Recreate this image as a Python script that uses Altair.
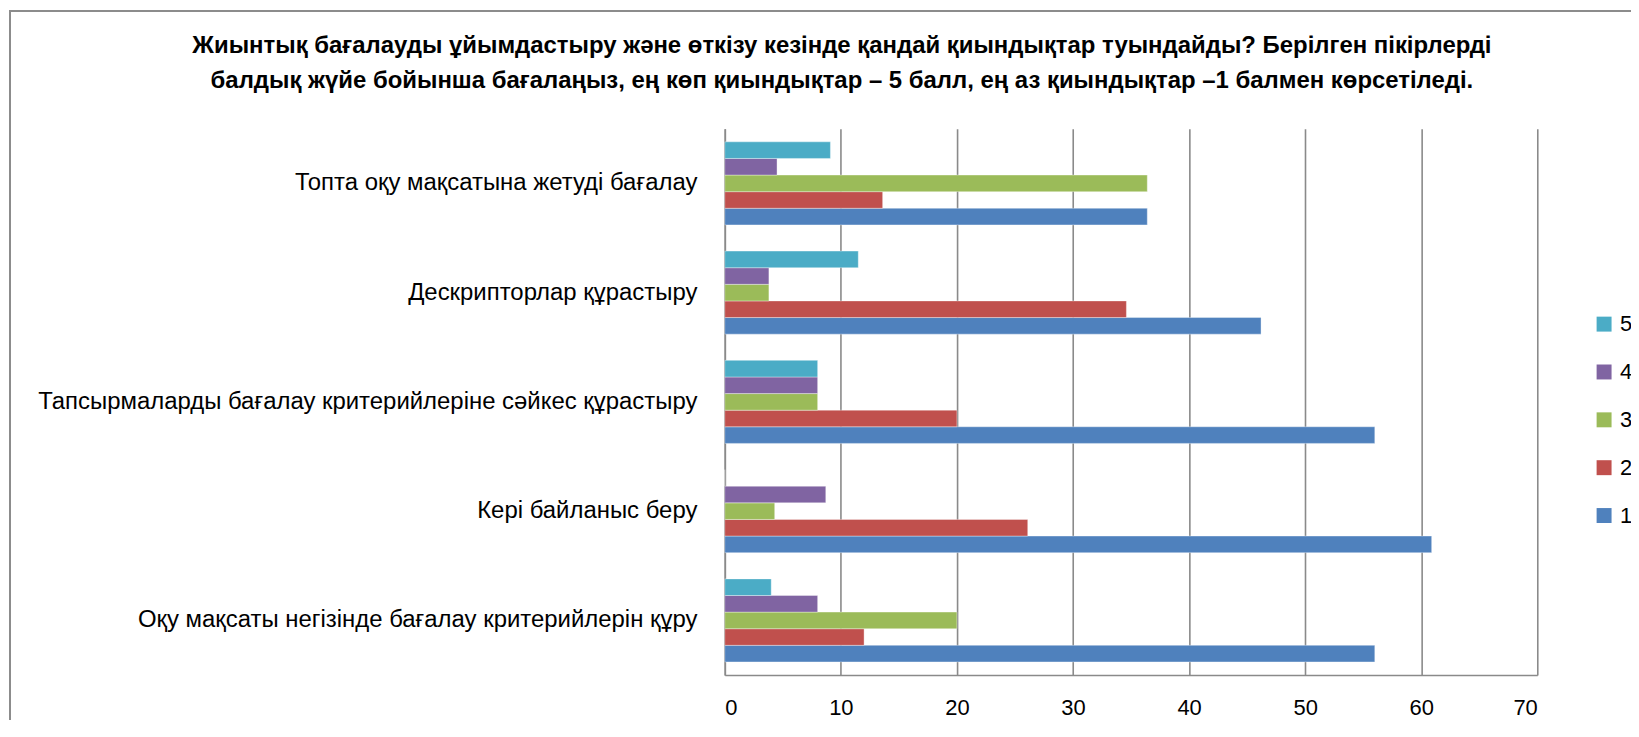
import altair as alt
import pandas as pd

categories = [
    "Топта оқу мақсатына жетуді бағалау",
    "Дескрипторлар құрастыру",
    "Тапсырмаларды бағалау критерийлеріне сәйкес құрастыру",
    "Кері байланыс беру",
    "Оқу мақсаты негізінде бағалау критерийлерін құру",
]
series = ["1", "2", "3", "4", "5"]
s1 = [36.4, 46.2, 56.0, 60.9, 56.0]
s2 = [13.6, 34.6, 20.0, 26.1, 12.0]
s3 = [36.4, 3.8, 8.0, 4.3, 20.0]
s4 = [4.5, 3.8, 8.0, 8.7, 8.0]
s5 = [9.1, 11.5, 8.0, 0.0, 4.0]
colors = ["#4F81BD", "#C0504D", "#9BBB59", "#8064A2", "#4BACC6"]
x_ticks = [0, 10, 20, 30, 40, 50, 60, 70]

title_lines = [
    "Жиынтық бағалауды ұйымдастыру және өткізу кезінде қандай қиындықтар туындайды? Берілген пікірлерді",
    "балдық жүйе бойынша бағалаңыз, ең көп қиындықтар – 5 балл, ең аз қиындықтар –1 балмен көрсетіледі.",
]

rows = []
for name, vals in zip(series, [s1, s2, s3, s4, s5]):
    for c, v in zip(categories, vals):
        rows.append({"category": c, "series": name, "value": v})
df = pd.DataFrame(rows)

W, H = 815, 548
FONT = "Liberation Sans"

order_desc = list(reversed(series))
color_desc = list(reversed(colors))

bars = alt.Chart(df).mark_bar(stroke="white", strokeWidth=0.6, strokeOpacity=0.6).encode(
    x=alt.X("value:Q",
            scale=alt.Scale(domain=[0, 70], nice=False, zero=True),
            axis=alt.Axis(values=x_ticks, title=None, grid=True, gridColor="#8a8a8a",
                          gridWidth=1.6, ticks=False, labelPadding=23, labelFontSize=22,
                          labelFont=FONT, labelColor="#000000", domainColor="#8a8a8a",
                          domainWidth=1.6)),
    y=alt.Y("category:N", sort=categories,
            scale=alt.Scale(paddingInner=0.24, paddingOuter=0.12),
            axis=alt.Axis(title=None, ticks=False, labelPadding=28, labelFontSize=24,
                          labelFont=FONT, labelColor="#000000", labelLimit=800,
                          domainColor="#8a8a8a", domainWidth=1.6)),
    yOffset=alt.YOffset("series:N", sort=order_desc),
    color=alt.Color("series:N",
                    scale=alt.Scale(domain=order_desc, range=color_desc),
                    legend=alt.Legend(title=None, orient="none", legendX=871, legendY=185,
                                      symbolType="square", symbolSize=225, symbolStrokeWidth=0,
                                      labelFontSize=22, labelFont=FONT, labelColor="#000000",
                                      rowPadding=26, labelOffset=5)),
)

frame = alt.Chart(alt.Data(values=[{"a": 1}])).mark_rect(
    fill=None, stroke="#8c8c8c", strokeWidth=2
).encode(
    x=alt.value(-717), x2=alt.value(W + 400),
    y=alt.value(-118), y2=alt.value(H + 400),
)

chart = alt.layer(frame, bars).properties(
    width=W, height=H,
    autosize=alt.AutoSizeParams(type="none"),
    padding={"left": 719, "top": 120, "right": 94, "bottom": 44},
    title=alt.TitleParams(text=title_lines, anchor="middle", frame="group", dx=-290,
                          offset=-83, fontSize=24, font=FONT, fontWeight="bold",
                          lineHeight=35, color="#000000"),
).configure_view(stroke=None)

chart.save("out.html", embed_options={"renderer": "svg", "actions": False})
